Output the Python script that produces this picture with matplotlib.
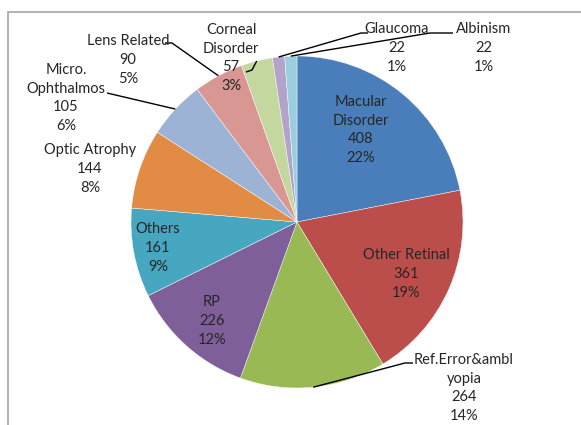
import numpy as np
import matplotlib
matplotlib.use("Agg")
import matplotlib.pyplot as plt
from matplotlib.patches import Rectangle

plt.rcParams['font.family'] = ['Lato', 'DejaVu Sans']

# data
labels = ["Macular\nDisorder", "Other Retinal", "Ref.Error&ambl\nyopia", "RP", "Others",
          "Optic Atrophy", "Micro.\nOphthalmos", "Lens Related", "Corneal\nDisorder",
          "Glaucoma", "Albinism"]
counts = [408, 361, 264, 226, 161, 144, 105, 90, 57, 22, 22]
colors = ["#4A7EBB", "#BB4E4B", "#98B954", "#7E5F99", "#47A7C1", "#E28B45",
          "#9CB3D6", "#D99794", "#C4D79F", "#B3A3C9", "#9ACEDF"]

W, H = 581, 425
cx, cy, R = 297, 222, 166

# label centres in pixel coords (from top-left)
label_pos = [(361, 130), (406, 274), (464, 388), (212, 321), (158, 248),
             (90, 169), (66, 98), (128, 60), (231, 58), (397, 48), (484, 48)]
# leader line elbows (None = inside label)
elbows = [None, None, [(405, 363), (413, 363)], None, None, None,
          [(107, 93)], [(172, 43), (165, 43)], [(252, 70), (246, 72)],
          [(361, 33), (368, 33)], [(430, 33), (453, 33)]]

fig = plt.figure(figsize=(W / 100, H / 100), dpi=100)
ax = fig.add_axes([0, 0, 1, 1])

def py(y):
    return H - y

ax.add_patch(Rectangle((8, -20), W + 20, py(12) + 20, fill=False,
                       edgecolor="#A6A6A6", linewidth=1.2, clip_on=False))

ax.pie(counts, colors=colors, startangle=90, counterclock=False,
       center=(cx, py(cy)), radius=R, frame=True,
       wedgeprops=dict(edgecolor="white", linewidth=0.3))
ax.set_xlim(0, W)
ax.set_ylim(0, H)
ax.set_aspect("equal")
ax.axis("off")

total = sum(counts)
cum = np.cumsum([0] + counts)
for i, (lab, n) in enumerate(zip(labels, counts)):
    pct = int(round(100 * n / total))
    x, y = label_pos[i]
    ax.text(x, py(y), f"{lab}\n{n}\n{pct}%", ha="center", va="center",
            fontsize=10.5, color="#262626", linespacing=1.42)
    if elbows[i] is not None:
        mid = (cum[i] + n / 2) / total * 2 * np.pi
        ex = cx + R * np.sin(mid)
        ey = cy - R * np.cos(mid)
        pts = [(ex, ey)] + elbows[i]
        ax.plot([p[0] for p in pts], [py(p[1]) for p in pts], color="black",
                linewidth=1.0, solid_capstyle="butt")

fig.savefig("out.png", dpi=100)
